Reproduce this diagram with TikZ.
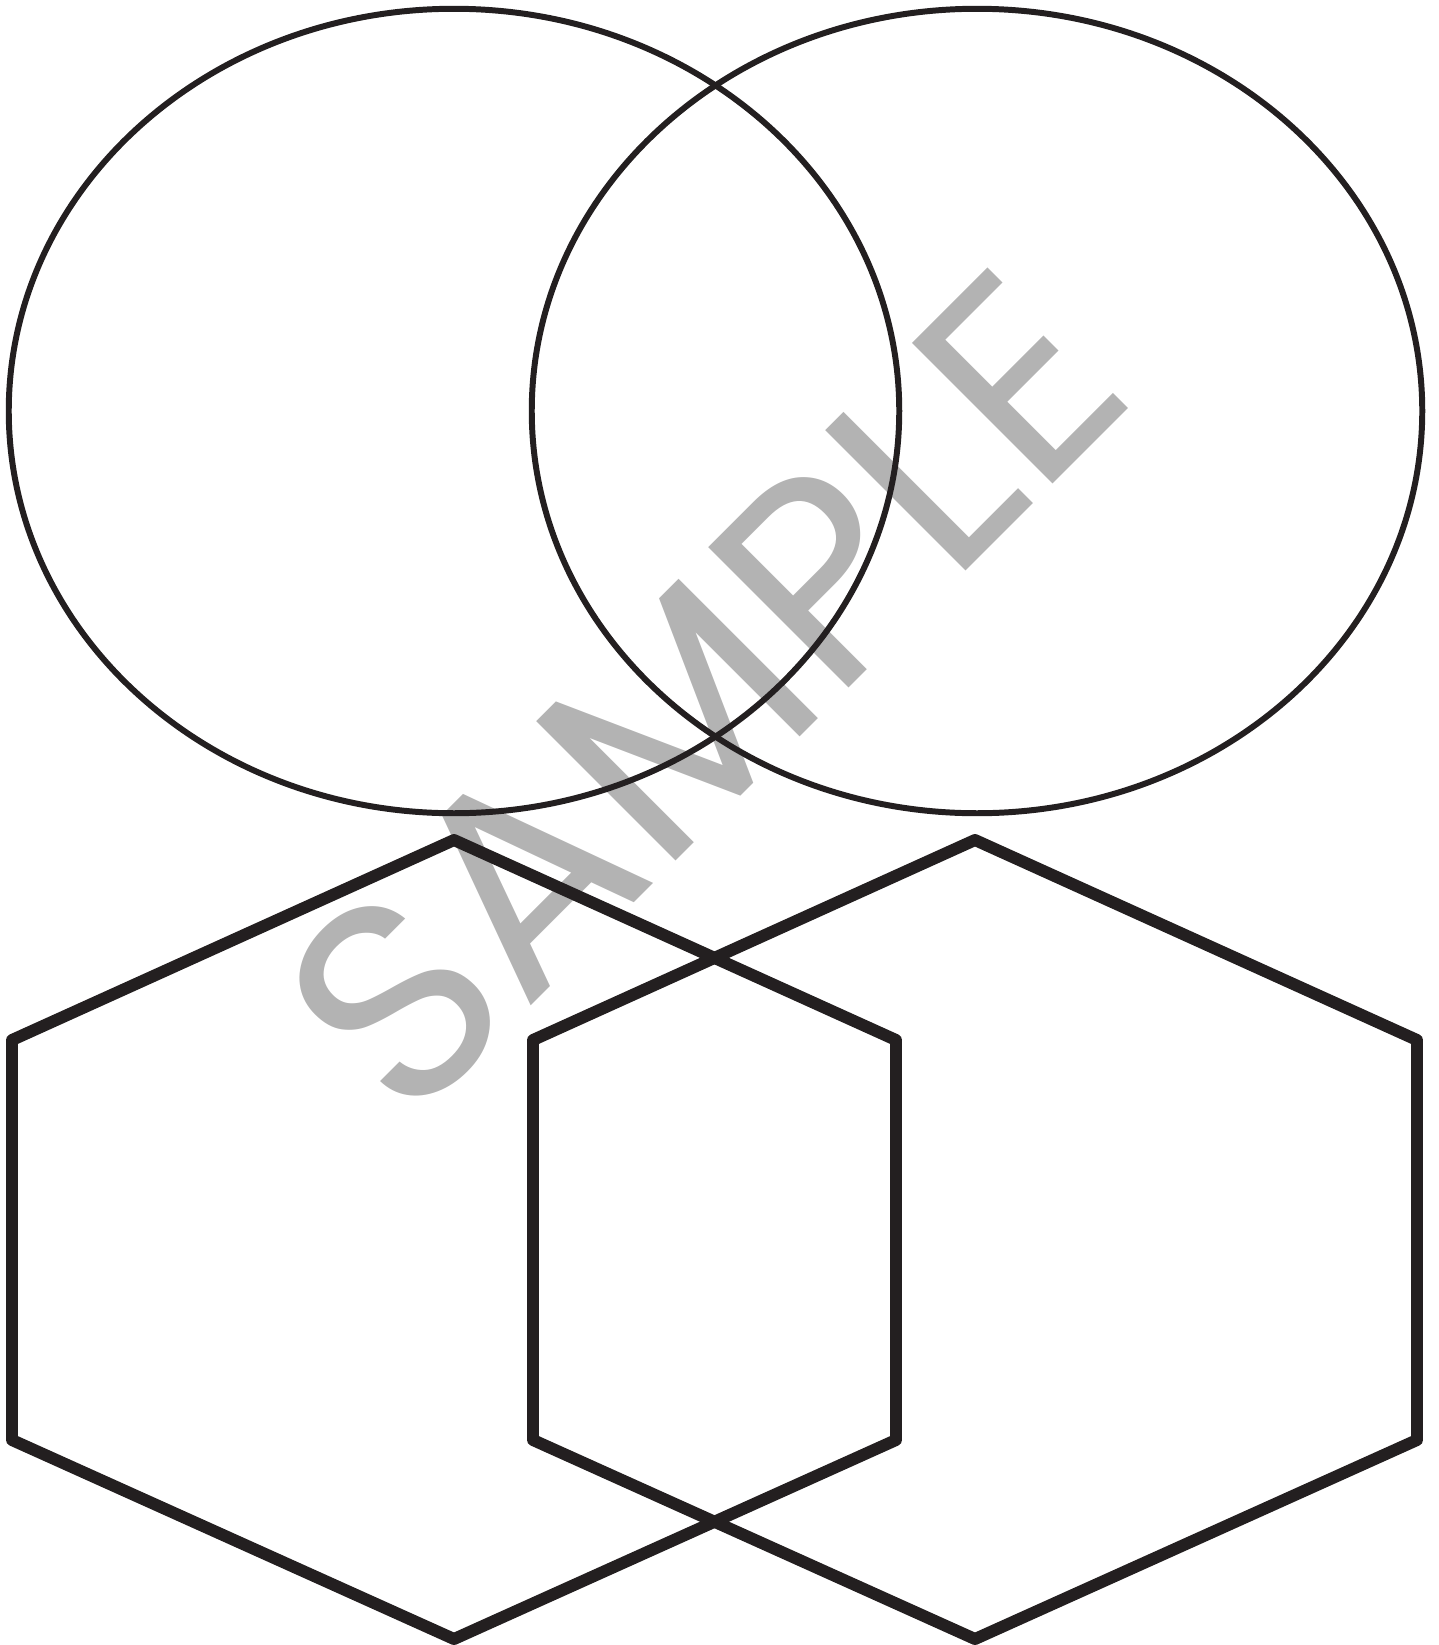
\documentclass[tikz,border=0pt]{standalone}
\usepackage{fontspec}
\newfontfamily\stampfont{Poppins}
\definecolor{ink}{HTML}{231F20}
\definecolor{stampgray}{HTML}{B3B3B3}
\begin{document}
\begin{tikzpicture}[
        x=0.01cm, y=-0.01cm,
        ring/.style={draw=ink, line width=1.7pt},
        hexline/.style={draw=ink, line width=3.4pt, line join=round},
        stamp/.style={text=stampgray, font=\stampfont\fontsize{81}{81}\selectfont, rotate=45, inner sep=0pt}
    ]
        \useasboundingbox (0,0) rectangle (1439,1645);

        \node[stamp] (sample) at (703,693) {SAMPLE};

        \draw[ring] (454,411) ellipse [x radius=4.45cm, y radius=4.02cm];
        \draw[ring] (977,411) ellipse [x radius=4.45cm, y radius=4.02cm];

        \draw[hexline] (454,840) -- (896,1040) -- (896,1440) -- (454,1639) -- (12,1440) -- (12,1040) -- cycle;
        \draw[hexline] (975,840) -- (1417,1040) -- (1417,1440) -- (975,1639) -- (533,1440) -- (533,1040) -- cycle;
    \end{tikzpicture}
\end{document}
